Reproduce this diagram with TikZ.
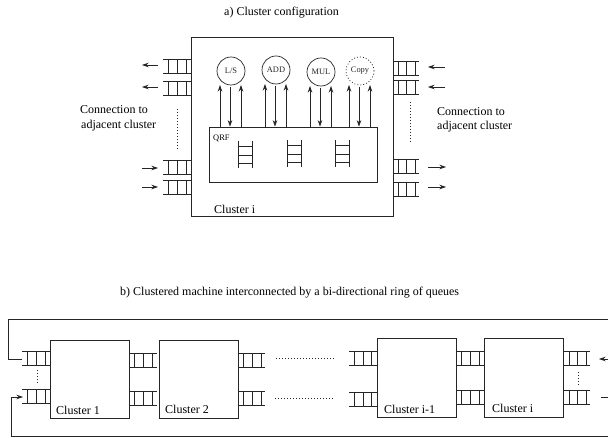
\documentclass[tikz,border=0pt]{standalone}
\usepackage{fontspec}
\setmainfont{Liberation Serif}
\usetikzlibrary{arrows.meta,calc}
\tikzset{
  ln/.style={line width=0.7pt,black!85},
  box/.style={ln,draw,inner sep=0pt,minimum width=#1},
  fu/.style={ln,draw,circle,inner sep=0pt,minimum size=28pt,font=\fontsize{8.4}{9}\selectfont},
  flow/.style={ln,-{Stealth[length=6.5pt,width=4.5pt,inset=2pt]}},
  dots/.style={ln,line width=0.6pt,dash pattern=on 1pt off 2pt},
  lbl/.style={inner sep=0pt,anchor=base west,font=\fontsize{12}{14}\selectfont},
  small/.style={inner sep=0pt,anchor=base west,font=\fontsize{8.4}{9}\selectfont},
}
% horizontal queue: x1,x2,top,bottom, three rung x
\newcommand{\hqueue}[7]{%
  \draw[ln] (#1,#3) -- (#2,#3) (#1,#4) -- (#2,#4);
  \foreach \vx in {#5,#6,#7} \draw[ln] (\vx,#3) -- (\vx,#4);
}
% vertical queue in the register file
\newcommand{\vqueue}[2]{%
  \draw[ln] (#1,#2) -- ++(0,27) ($(#1,#2)+(14,0)$) -- ++(0,27);
  \foreach \vy in {5.5,14,22.5} \draw[ln] ($(#1,#2)+(0,\vy)$) -- ++(14,0);
}
\begin{document}
\begin{tikzpicture}[x=1pt,y=-1pt]
\useasboundingbox (0,0) rectangle (608,438);
\fill[white] (0,0) rectangle (608,438);

% titles
\node[lbl] (ta) at (224,16) {a) Cluster configuration};
\node[lbl] (tb) at (120,296) {b) Clustered machine interconnected by a bi-directional ring of queues};

% ---------- part a ----------
\node[box=202pt,minimum height=179pt] (main) at (292,126.5) {};
\node[box=168pt,minimum height=55pt] (qrf) at (293,154.5) {};
\node[fu] (ls) at (231,71) {L/S};
\node[fu] (add) at (276,70) {ADD};
\node[fu] (mul) at (321,72) {MUL};
\node[fu,dash pattern=on 1pt off 2pt] (copy) at (360,71) {Copy};

\foreach \c in {ls,add,mul,copy}{
  \coordinate (p1) at ($(\c.center)+(-11,14)$);
  \coordinate (p2) at ($(\c.center)+(-1,16)$);
  \coordinate (p3) at ($(\c.center)+(10,14)$);
  \draw[flow] (p1 |- qrf.north) -- (p1);
  \draw[flow] (p2) -- (p2 |- qrf.north);
  \draw[flow] (p3 |- qrf.north) -- (p3);
}

\vqueue{238}{141}
\vqueue{287}{140}
\vqueue{335}{140}
\node[small] (qrft) at (213,140.5) {QRF};
\node[lbl] (cli) at (214,214) {Cluster i};

% left queues
\hqueue{163}{191}{59}{73}{168}{177}{186}
\hqueue{163}{191}{81}{95}{168}{177}{186}
\hqueue{163}{191}{160}{174}{168}{177}{186}
\hqueue{163}{191}{180}{194}{168}{177}{186}
% right queues
\hqueue{393}{419}{61}{75}{398}{406}{415}
\hqueue{393}{419}{80}{94}{398}{406}{415}
\hqueue{393}{419}{159}{173}{398}{406}{415}
\hqueue{393}{419}{182}{196}{398}{406}{415}

% small arrows
\coordinate (la1s) at (158,65); \coordinate (la1e) at (142,65);
\coordinate (la2s) at (158,87); \coordinate (la2e) at (142,87);
\coordinate (la3s) at (142,168); \coordinate (la3e) at (158,168);
\coordinate (la4s) at (142,187); \coordinate (la4e) at (158,187);
\coordinate (ra1s) at (445,67); \coordinate (ra1e) at (428,67);
\coordinate (ra2s) at (445,87); \coordinate (ra2e) at (428,87);
\coordinate (ra3s) at (428,167); \coordinate (ra3e) at (446,167);
\coordinate (ra4s) at (428,187); \coordinate (ra4e) at (446,187);
\foreach \a in {la1,la2,la3,la4,ra1,ra2,ra3,ra4}
  \draw[flow] (\a s) -- (\a e);

% dotted
\coordinate (ld1) at (177,109); \coordinate (ld2) at (177,150);
\coordinate (rd1) at (410,102); \coordinate (rd2) at (410,142);
\draw[dots] (ld1) -- (ld2);
\draw[dots] (rd1) -- (rd2);

\node[lbl] (cl1) at (80,114) {Connection to};
\node[lbl] (cl2) at (81,129) {adjacent cluster};
\node[lbl] (cr1) at (437,115.5) {Connection to};
\node[lbl] (cr2) at (437,129.5) {adjacent cluster};

% ---------- part b ----------
\node[box=79pt,minimum height=78pt] (c1) at (89.5,379) {};
\node[box=79pt,minimum height=78pt] (c2) at (198.5,379) {};
\node[box=79pt,minimum height=79.5pt] (cim) at (416.5,378) {};
\node[box=79pt,minimum height=79.5pt] (ci) at (523.5,378) {};
\node[lbl] (c1t) at (56,414) {Cluster 1};
\node[lbl] (c2t) at (165,413.5) {Cluster 2};
\node[lbl] (cimt) at (384,413.5) {Cluster i-1};
\node[lbl] (cit) at (492,412.5) {Cluster i};

\hqueue{22}{50}{351}{365}{27}{36}{45}
\hqueue{22}{50}{389}{403}{27}{36}{45}
\hqueue{129}{157}{353}{367}{134}{143}{152}
\hqueue{129}{157}{391}{405}{134}{143}{152}
\hqueue{238}{265}{353}{367}{243}{252}{261}
\hqueue{238}{265}{391}{405}{243}{252}{261}
\hqueue{349}{377}{351}{365}{354}{363}{371}
\hqueue{349}{377}{392}{406}{354}{363}{371}
\hqueue{456}{484}{351}{365}{461}{470}{479}
\hqueue{456}{484}{390}{404}{461}{470}{479}
\hqueue{563}{590}{351}{365}{569}{577}{586}
\hqueue{563}{590}{390}{404}{569}{577}{586}

% ring
\coordinate (ts) at (22,359); \coordinate (tl) at (8,359);
\coordinate (tt) at (8,319); \coordinate (te) at (608,319);
\coordinate (bs) at (608,436.5); \coordinate (bl) at (11,436.5);
\coordinate (bu) at (11,397); \coordinate (be) at (23,397);
\coordinate (ras) at (608,359); \coordinate (rae) at (599,359);
\coordinate (rbs) at (601,397); \coordinate (rbe) at (608,397);
\draw[ln] (ts) -- (tl) -- (tt) -- (te);
\draw[flow] (bs) -- (bl) -- (bu) -- (be);
\draw[flow] (ras) -- (rae);
\draw[ln] (rbs) -- (rbe);

% dotted
\coordinate (d1a) at (37,370); \coordinate (d1b) at (37,383);
\coordinate (d2a) at (578,372); \coordinate (d2b) at (578,386);
\coordinate (d3a) at (276,358); \coordinate (d3b) at (334,358);
\coordinate (d4a) at (275,398); \coordinate (d4b) at (333,398);
\draw[dots] (d1a) -- (d1b);
\draw[dots] (d2a) -- (d2b);
\draw[dots] (d3a) -- (d3b);
\draw[dots] (d4a) -- (d4b);
\end{tikzpicture}
\end{document}
